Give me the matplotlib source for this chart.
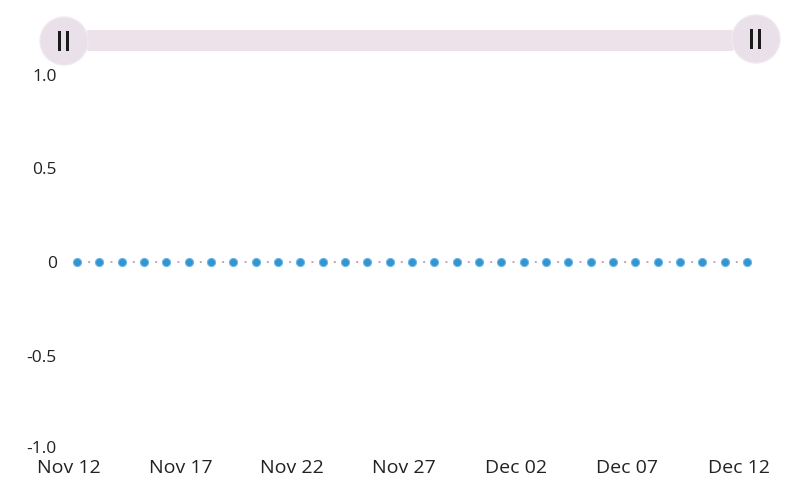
import matplotlib
matplotlib.use("Agg")
import matplotlib.pyplot as plt
import matplotlib.dates as mdates
from matplotlib.patches import Circle, FancyBboxPatch, Rectangle
from matplotlib.transforms import ScaledTranslation
import numpy as np
import pandas as pd

# Data
dates = pd.date_range("2023-11-12", "2023-12-12", freq="D")
values = [0] * len(dates)
tick_dates = pd.date_range("2023-11-12", "2023-12-12", freq="5D")
y_ticks = [-1.0, -0.5, 0, 0.5, 1.0]
y_labels = ["-1.0", "-0.5", "0", "0.5", "1.0"]

plt.rcParams['font.family'] = ['Open Sans', 'DejaVu Sans']

W, H = 809, 492
fig = plt.figure(figsize=(W / 100, H / 100), dpi=100)

left_px, right_px, top_px, bot_px = 65, 809, 75, 449
ax = fig.add_axes([left_px / W, 1 - bot_px / H, (right_px - left_px) / W, (bot_px - top_px) / H])

day_px = (747 - 77) / 30.0
lw = 1.4
period_pt = (day_px / 2) * 72 / 100
ax.plot(dates, values, linestyle=(0, (1, period_pt / lw - 1)), color="#c6a3b6",
        linewidth=lw, zorder=2, solid_capstyle="butt", dash_capstyle="butt")
ax.plot(dates, values, linestyle="none", marker="o", markersize=5.8,
        markerfacecolor="#3494d0", markeredgecolor="#6ab8e6", markeredgewidth=0.8, zorder=3)

x0 = mdates.date2num(dates[0])
ax.set_xlim(x0 - (77 - left_px) / day_px, x0 + (right_px - 77) / day_px)
ax.set_ylim(-1.0, 1.0)

ax.set_xticks(mdates.date2num(tick_dates))
ax.xaxis.set_major_formatter(mdates.DateFormatter("%b %d"))
ax.set_yticks(y_ticks)
ax.set_yticklabels(y_labels)
ax.tick_params(axis="both", length=0, colors="#222222")
ax.tick_params(axis="x", pad=7, labelsize=14)
ax.tick_params(axis="y", pad=6, labelsize=12.5)
shift = ScaledTranslation(-8 / 100, 0, fig.dpi_scale_trans)
for lab in ax.get_xticklabels():
    lab.set_horizontalalignment("center")
    lab.set_transform(lab.get_transform() + shift)
yshift = ScaledTranslation(0, 2 / 100, fig.dpi_scale_trans)
ylabs = ax.get_yticklabels()
ylabs[0].set_transform(ylabs[0].get_transform() + yshift)
for s in ax.spines.values():
    s.set_visible(False)
ax.grid(False)

# Range slider decoration on an overlay axes in pixel units
ov = fig.add_axes([0, 0, 1, 1], zorder=5)
ov.set_xlim(0, W)
ov.set_ylim(H, 0)
ov.axis("off")
ov.patch.set_alpha(0)
bar = FancyBboxPatch((86, 30), 648, 21, boxstyle="round,pad=0,rounding_size=3",
                     facecolor="#eee2ea", edgecolor="none")
ov.add_patch(bar)
for cx, cy in [(64, 41), (756, 39)]:
    ov.add_patch(Circle((cx, cy), 24, facecolor="#e9e0e9", edgecolor="#f0eaf0", linewidth=1))
    for dx in (-4.5, 3.5):
        ov.add_patch(Rectangle((cx + dx - 1, cy - 10), 3, 20, facecolor="#1a1a1a", edgecolor="none"))

fig.savefig("out.png", dpi=100)
